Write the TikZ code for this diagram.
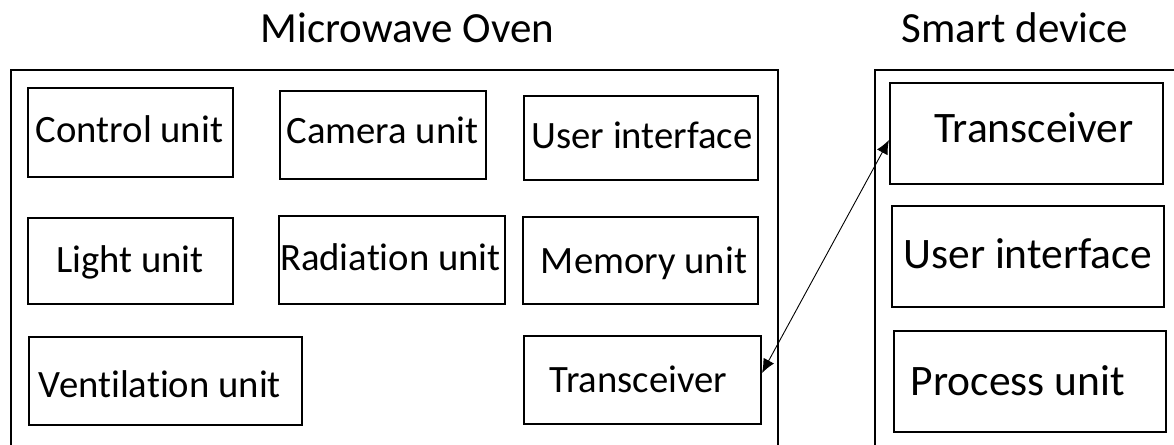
\documentclass[tikz,border=0pt]{standalone}
\usepackage{fontspec}
\setmainfont[Ligatures={NoCommon}]{Carlito}
\usetikzlibrary{arrows.meta}
\begin{document}
\begin{tikzpicture}[x=1pt,y=-1pt,
  box/.style={draw=black, line width=2pt, inner sep=0pt, rectangle},
  frame/.style={draw=black, line width=2pt},
  txt/.style={anchor=base, inner sep=0pt, font=\fontsize{38.7}{42}\selectfont},
  bigtxt/.style={anchor=base, inner sep=0pt, font=\fontsize{43.5}{47}\selectfont},
  title/.style={anchor=base, inner sep=0pt, font=\fontsize{43}{47}\selectfont},
  link/.style={line width=0.9pt, {Latex[length=14pt,width=12pt]}-{Latex[length=14pt,width=12pt]}}]
\useasboundingbox (0,0) rectangle (1174,444);
\clip (0,0) rectangle (1174,444);

% titles
\node[title] (ovenT) at (407.5,43) {Microwave Oven};
\node[title] (devT) at (1015,42) {Smart device};

% enclosing frames (open at the bottom edge)
\draw[frame] (11,460) -- (11,70) -- (778,70) -- (778,460);
\draw[frame] (875,460) -- (875,70) -- (1190,70);

% microwave oven units
\node[box, minimum width=205pt, minimum height=89pt] (ctrl) at (130.5,132.5) {};
\node[txt] (ctrlT) at (129.5,142) {Control unit};
\node[box, minimum width=206pt, minimum height=88pt] (cam) at (383,135) {};
\node[txt] (camT) at (382.5,143) {Camera unit};
\node[box, minimum width=234pt, minimum height=84pt] (ui) at (641,138) {};
\node[txt] (uiT) at (642,148) {User interface};

\node[box, minimum width=205pt, minimum height=86pt] (light) at (130.5,261) {};
\node[txt] (lightT) at (130,272) {Light unit};
\node[box, minimum width=226pt, minimum height=88pt] (rad) at (392,260) {};
\node[txt] (radT) at (390.5,270) {Radiation unit};
\node[box, minimum width=235pt, minimum height=87pt] (mem) at (640.5,260.5) {};
\node[txt] (memT) at (644,273) {Memory unit};

\node[box, minimum width=273pt, minimum height=88pt] (vent) at (165.5,381) {};
\node[txt] (ventT) at (160,397) {Ventilation unit};
\node[box, minimum width=237pt, minimum height=88pt] (otrans) at (642.5,380) {};
\node[txt] (otransT) at (638.5,392) {Transceiver};

% smart device units
\node[box, minimum width=273pt, minimum height=101pt] (strans) at (1026.5,133.5) {};
\node[bigtxt] (stransT) at (1034,142) {Transceiver};
\node[box, minimum width=272pt, minimum height=101pt] (sui) at (1028,256.5) {};
\node[bigtxt] (suiT) at (1027.5,268) {User interface};
\node[box, minimum width=272pt, minimum height=101pt] (proc) at (1030,381.5) {};
\node[bigtxt] (procT) at (1018,395) {Process unit};

% wireless link between the two transceivers
\draw[link] ([yshift=7pt]otrans.east) -- ([yshift=-6.5pt]strans.west);
\end{tikzpicture}
\end{document}
